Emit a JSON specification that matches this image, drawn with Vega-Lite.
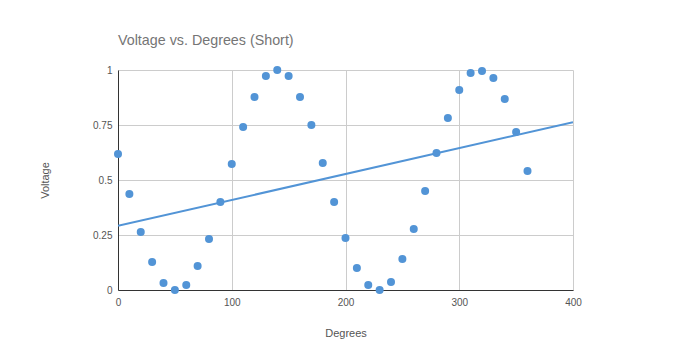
{
  "$schema": "https://vega.github.io/schema/vega-lite/v6.json",
  "width": 455,
  "height": 220,
  "autosize": {"type": "none"},
  "padding": {"left": 118, "top": 70, "right": 120, "bottom": 69},
  "background": "white",
  "title": {
    "text": "Voltage vs. Degrees (Short)",
    "anchor": "start",
    "frame": "group",
    "font": "Liberation Sans",
    "fontSize": 14.3,
    "fontWeight": "normal",
    "color": "#757575",
    "offset": 17
  },
  "config": {
    "view": {"stroke": null},
    "axis": {
      "labelFont": "Liberation Sans",
      "titleFont": "Liberation Sans",
      "labelFontSize": 10,
      "titleFontSize": 11,
      "labelColor": "#555555",
      "titleColor": "#555555",
      "titleFontWeight": "normal",
      "gridColor": "#cccccc",
      "domainColor": "#333333",
      "ticks": false,
      "labelFlush": false
    }
  },
  "data": {
    "values": [
      {"deg": 0, "v": 0.618}, {"deg": 10, "v": 0.436}, {"deg": 20, "v": 0.264},
      {"deg": 30, "v": 0.127}, {"deg": 40, "v": 0.032}, {"deg": 50, "v": 0.0},
      {"deg": 60, "v": 0.023}, {"deg": 70, "v": 0.109}, {"deg": 80, "v": 0.232},
      {"deg": 90, "v": 0.4}, {"deg": 100, "v": 0.573}, {"deg": 110, "v": 0.741},
      {"deg": 120, "v": 0.877}, {"deg": 130, "v": 0.973}, {"deg": 140, "v": 1.0},
      {"deg": 150, "v": 0.973}, {"deg": 160, "v": 0.877}, {"deg": 170, "v": 0.75},
      {"deg": 180, "v": 0.577}, {"deg": 190, "v": 0.4}, {"deg": 200, "v": 0.236},
      {"deg": 210, "v": 0.1}, {"deg": 220, "v": 0.023}, {"deg": 230, "v": 0.0},
      {"deg": 240, "v": 0.036}, {"deg": 250, "v": 0.141}, {"deg": 260, "v": 0.277},
      {"deg": 270, "v": 0.45}, {"deg": 280, "v": 0.623}, {"deg": 290, "v": 0.782},
      {"deg": 300, "v": 0.909}, {"deg": 310, "v": 0.986}, {"deg": 320, "v": 0.995},
      {"deg": 330, "v": 0.964}, {"deg": 340, "v": 0.868}, {"deg": 350, "v": 0.718},
      {"deg": 360, "v": 0.541}
    ]
  },
  "encoding": {
    "x": {
      "field": "deg", "type": "quantitative", "title": "Degrees",
      "scale": {"domain": [0, 400], "nice": false},
      "axis": {"values": [0, 100, 200, 300, 400], "labelPadding": 7, "titlePadding": 20}
    },
    "y": {
      "field": "v", "type": "quantitative", "title": "Voltage",
      "scale": {"domain": [0, 1], "nice": false},
      "axis": {"values": [0, 0.25, 0.5, 0.75, 1], "format": ".2~f", "labelPadding": 6, "titlePadding": 42}
    }
  },
  "layer": [
    {
      "mark": {"type": "point", "filled": true, "size": 64, "opacity": 1, "color": "#5294d6"}
    },
    {
      "transform": [{"regression": "v", "on": "deg", "extent": [0, 400]}],
      "mark": {"type": "line", "color": "#5294d6", "strokeWidth": 2, "clip": true}
    }
  ]
}
